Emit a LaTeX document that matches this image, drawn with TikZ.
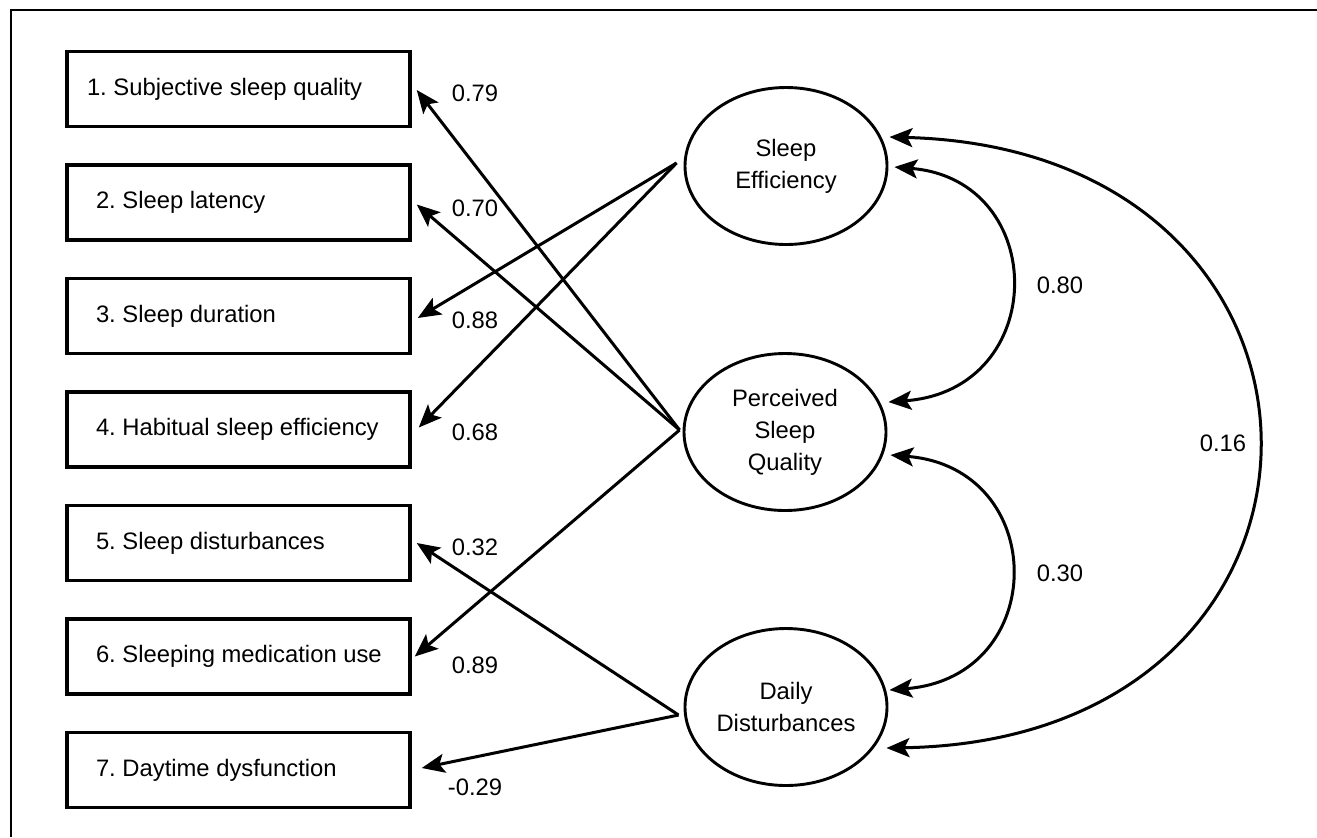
\documentclass[tikz,border=0pt]{standalone}
\usepackage{fontspec}
\setmainfont{Liberation Sans}
\usetikzlibrary{shapes.geometric,arrows.meta,calc}
\frenchspacing
\newcommand{\obstxt}[1]{\makebox[142.5pt][l]{#1}}
\begin{document}
\begin{tikzpicture}[x=0.5pt,y=-0.5pt,
  font=\fontsize{11.9}{16}\selectfont,
  obs/.style={draw,line width=1.75pt,minimum height=37.5pt,minimum width=171.5pt,inner xsep=14.5pt,inner ysep=0pt},
  lat/.style={draw,ellipse,line width=1.45pt,minimum width=101pt,minimum height=78.5pt,inner sep=0pt,align=center},
  tipst/.tip={Stealth[length=11.5pt,width=9.5pt,inset=2.5pt]},
  arr/.style={line width=1.5pt,-tipst},
  biarr/.style={line width=1.5pt,tipst-tipst},
  lbl/.style={inner sep=0pt}]
\useasboundingbox (0,0) rectangle (1317,837);
% frame (top and left only)
\draw[line width=1.4pt] (11,837) -- (11,10) -- (1317,10);

% observed indicators
\node[obs,inner xsep=10pt] (b1) at (238.5,89) {\makebox[151.5pt][l]{1. Subjective sleep quality}};
\node[obs] (b2) at (238.5,202.5) {\obstxt{2. Sleep latency}};
\node[obs] (b3) at (238.5,316) {\obstxt{3. Sleep duration}};
\node[obs] (b4) at (238.5,429.5) {\obstxt{4. Habitual sleep efficiency}};
\node[obs] (b5) at (238.5,543) {\obstxt{5. Sleep disturbances}};
\node[obs] (b6) at (238.5,656.5) {\obstxt{6. Sleeping medication use}};
\node[obs] (b7) at (238.5,770) {\obstxt{7. Daytime dysfunction}};

% latent factors
\node[lat] (se) at (786,166) {Sleep\\Efficiency};
\node[lat] (psq) at (785,432) {Perceived\\Sleep\\Quality};
\node[lat] (dd) at (786,707) {Daily\\Disturbances};

% origins of the loading arrows
\coordinate (seo) at ($(se.west)+(-7,-3)$);
\coordinate (psqo) at ($(psq.west)+(-3,-2)$);
\coordinate (ddo) at ($(dd.west)+(-5,8)$);

% loadings
\draw[arr] (psqo) -- ([xshift=2.5pt,yshift=-0.5pt]b1.east);
\draw[arr] (psqo) -- ([xshift=2.5pt,yshift=-1pt]b2.east);
\draw[arr] (seo) -- ([xshift=3pt,yshift=-1pt]b3.east);
\draw[arr] (seo) -- ([xshift=3.5pt,yshift=1pt]b4.east);
\draw[arr] (ddo) -- ([xshift=2.5pt]b5.east);
\draw[arr] (psqo) -- ([xshift=1.5pt]b6.east);
\draw[arr] (ddo) -- ([xshift=5pt,yshift=1pt]b7.east);

% loading labels
\node[lbl] (l1) at (475,93) {0.79};
\node[lbl] (l2) at (475,208) {0.70};
\node[lbl] (l3) at (475,320) {0.88};
\node[lbl] (l4) at (475,432) {0.68};
\node[lbl] (l5) at (475,547) {0.32};
\node[lbl] (l6) at (475,665) {0.89};
\node[lbl] (l7) at (475,787) {-0.29};

% correlations
\draw[biarr] ([shift={(6,1)}]se.east) .. controls (1050,180) and (1050,390) .. ([shift={(1,-30)}]psq.east);
\draw[biarr] ([shift={(3,23)}]psq.east) .. controls (1050,468) and (1050,677) .. ([shift={(1,-17)}]dd.east);
\draw[biarr] ([shift={(1,-29)}]se.east) .. controls (1380,150) and (1380,740) .. ([shift={(-2,41)}]dd.east);

\node[lbl] (c1) at (1060,285) {0.80};
\node[lbl] (c2) at (1060,573) {0.30};
\node[lbl] (c3) at (1223,443) {0.16};
\end{tikzpicture}
\end{document}
